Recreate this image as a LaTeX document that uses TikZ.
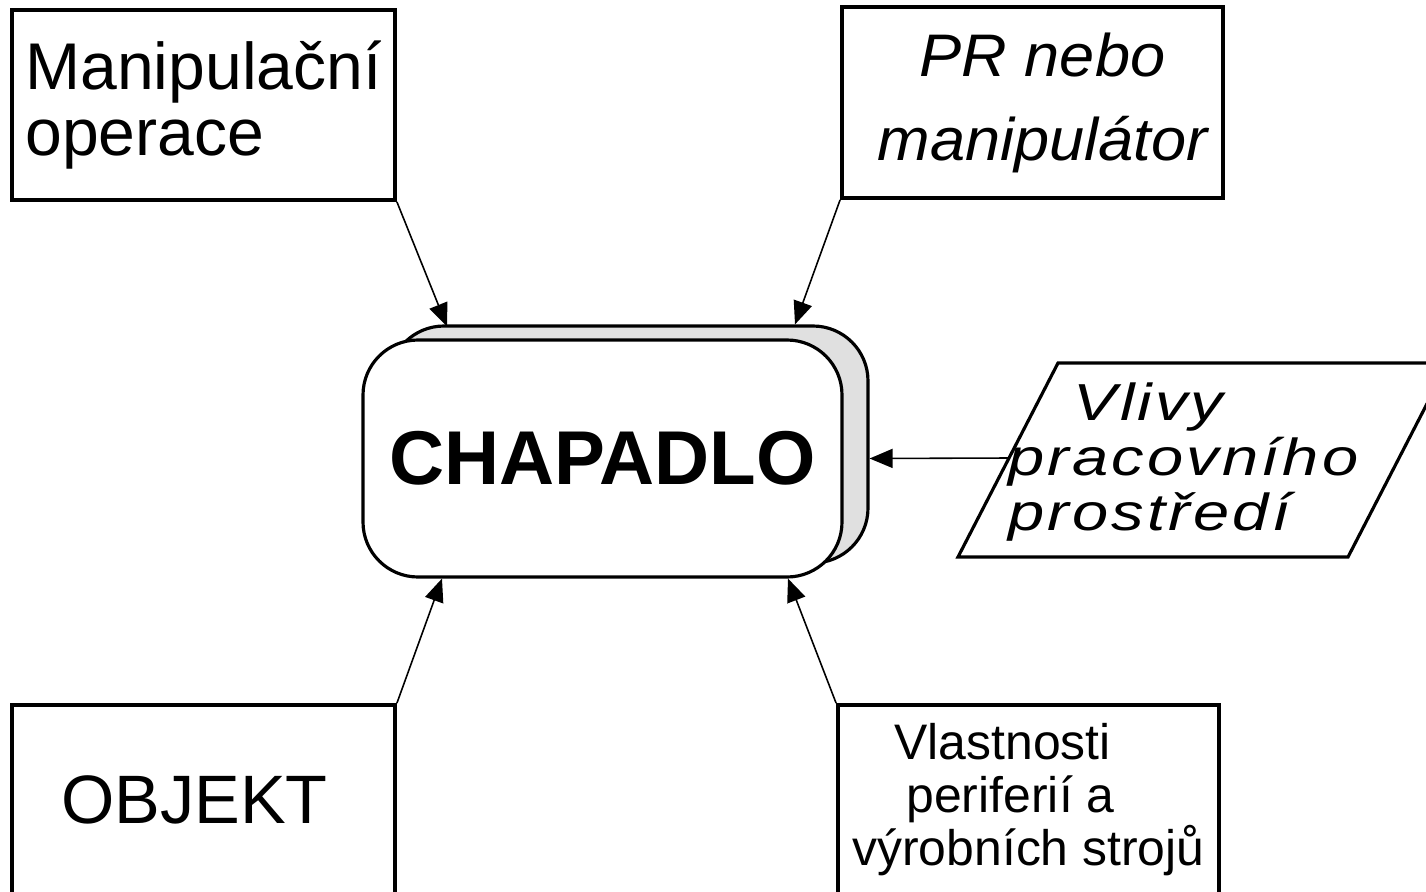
\documentclass[tikz,border=0pt]{standalone}
\usepackage{fontspec}
\setmainfont{Liberation Sans}
\newfontfamily\wideitalic[FakeStretch=1.25, LetterSpace=6]{Liberation Sans}
\newfontfamily\robotfont[FakeStretch=1.05]{Liberation Sans}
\usepackage{tikz}
\usetikzlibrary{arrows.meta, shadows}
\tikzset{
    inarrow/.style={-{Triangle[length=2.3mm, width=1.9mm]}, line width=0.45pt},
    box/.style={draw, rectangle, line width=1.1pt, fill=white, minimum width=3.83cm, minimum height=1.9cm, inner sep=0pt},
    gripper/.style={draw, rectangle, rounded corners=0.55cm, line width=0.9pt, fill=white, minimum width=4.79cm, minimum height=2.37cm,
        copy shadow={shadow xshift=0.26cm, shadow yshift=0.14cm, fill=black!12, draw=black, line width=0.9pt}}
}

\begin{document}
\begin{tikzpicture}
    \useasboundingbox (0,0) rectangle (14.26,8.91);
    \node (grip) [gripper, font=\fontsize{21.7}{24}\selectfont\bfseries] at (6.025,4.325) {\raisebox{-0.07cm}{CHAPADLO}};
    \node (manip) [box, align=left, font=\fontsize{18.8}{18.8}\selectfont] at (2.035,7.86) {Manipulační\\operace};
    \node (robot) [box, minimum width=3.81cm, minimum height=1.91cm, align=center, font=\fontsize{17.1}{23.9}\robotfont\itshape] at (10.325,7.885) {\hspace*{0.2cm}PR nebo\\\hspace*{0.2cm}manipulátor};
    \node (object) [box, font=\fontsize{19.5}{19.5}\selectfont] at (2.035,0.91) {OBJEKT\hspace*{0.18cm}};
    \node (props) [box, minimum width=3.81cm, align=center, font=\fontsize{14.2}{15.1}\selectfont] at (10.285,0.91) {Vlastnosti\rule{0.52cm}{0pt}\\periferií a\rule{0.36cm}{0pt}\\výrobních strojů};
    \draw [line width=0.9pt, fill=white] (9.58,3.34) -- (10.58,5.28) -- (14.48,5.28) -- (13.48,3.34) -- cycle;
    \node (env) [anchor=west, inner sep=0pt, align=left, font=\fontsize{14.8}{15.6}\wideitalic\itshape] at (10.08,4.29) {\hspace*{0.65cm}Vlivy\\pracovního\\prostředí};
    \coordinate (envin) at (10.09,4.33);
    \draw [inarrow] (manip.south east) -- ([xshift=-1.555cm, yshift=0.12cm]grip.north);
    \draw [inarrow] (robot.south west) -- ([xshift=1.925cm, yshift=0.14cm]grip.north);
    \draw [inarrow] (envin) -- ([xshift=0.26cm]grip.east);
    \draw [inarrow] (object.north east) -- ([xshift=-1.605cm]grip.south);
    \draw [inarrow] (props.north west) -- ([xshift=1.855cm]grip.south);
\end{tikzpicture}
\end{document}
